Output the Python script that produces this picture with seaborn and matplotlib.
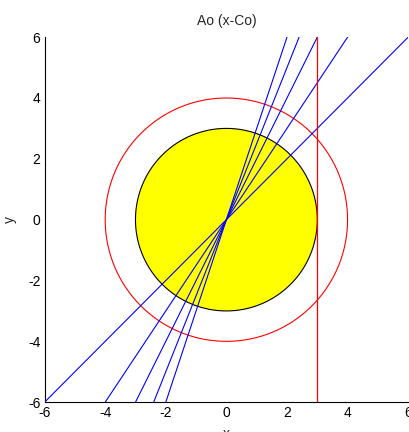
import numpy as np
import pandas as pd
import seaborn as sns
import matplotlib.pyplot as plt

# data
slopes = [1.0, 1.5, 2.0, 2.5, 3.0]
inner_radius = 3.0
outer_radius = 4.0
vline_x = 3.0
lim = [-6, 6]
ticks = [-6, -4, -2, 0, 2, 4, 6]

sns.set_style("white")
plt.rcParams['font.family'] = ['Liberation Sans', 'DejaVu Sans']
plt.rcParams['axes.unicode_minus'] = False

fig = plt.figure(figsize=(4.09, 4.32), dpi=100)
ax = fig.add_axes([0.109, 0.069, 0.889, 0.845])

theta = np.linspace(0, 2 * np.pi, 400)

# yellow disc with black outline
ax.fill(inner_radius * np.cos(theta), inner_radius * np.sin(theta),
        facecolor='#ffff00', edgecolor='black', lw=0.8, zorder=1)

# red circle
circ = pd.DataFrame({'x': outer_radius * np.cos(theta),
                     'y': outer_radius * np.sin(theta)})
ax.plot(circ['x'], circ['y'], color='red', lw=0.8, zorder=2)

# blue lines through the origin
for s in slopes:
    ys = np.array(lim, dtype=float)
    df = pd.DataFrame({'x': ys / s, 'y': ys})
    sns.lineplot(data=df, x='x', y='y', color='blue', lw=0.8, ax=ax,
                 sort=False, estimator=None, zorder=3)

# red vertical line
sns.lineplot(x=[vline_x, vline_x], y=lim, color='red', lw=0.9, ax=ax,
             zorder=3, sort=False, estimator=None)

ax.set_xlim(lim)
ax.set_ylim(lim)
ax.set_xticks(ticks)
ax.set_yticks(ticks)
ax.tick_params(direction='in', length=4, width=0.8, labelsize=10,
               colors='black', pad=3)
for side in ['top', 'right']:
    ax.spines[side].set_visible(False)
for side in ['left', 'bottom']:
    ax.spines[side].set_color('black')
    ax.spines[side].set_linewidth(0.8)

ax.set_title('Ao (x-Co)', fontsize=10, pad=9)
ax.set_xlabel('x', fontsize=10, labelpad=5)
ax.set_ylabel('y', fontsize=10, labelpad=8)

fig.savefig('out.png', dpi=100)
